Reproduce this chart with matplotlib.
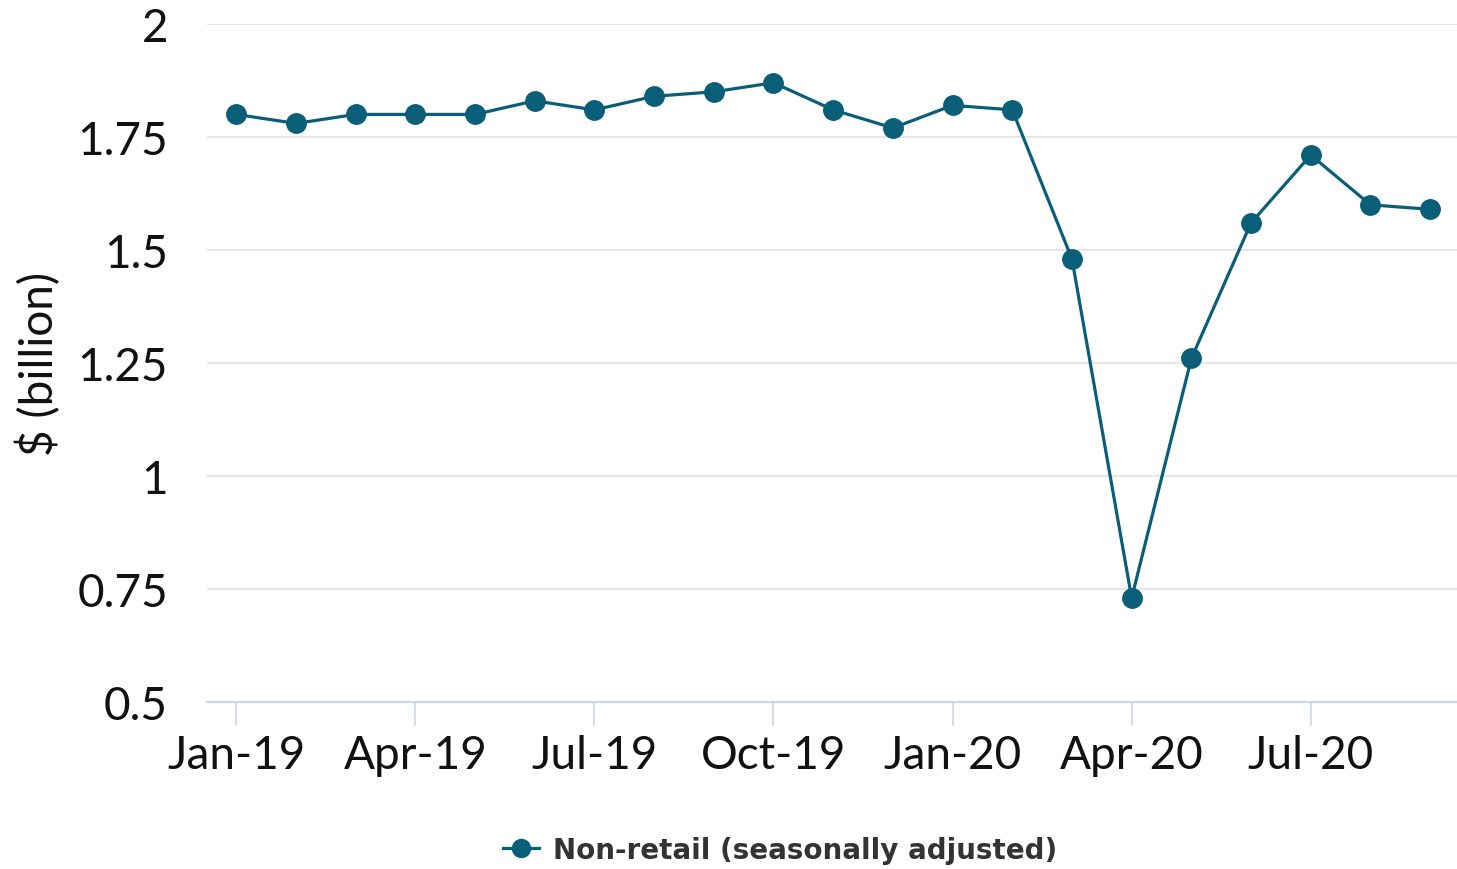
import matplotlib.pyplot as plt

# ====================== data ======================
months = ['Jan-19', 'Feb-19', 'Mar-19', 'Apr-19', 'May-19', 'Jun-19', 'Jul-19',
          'Aug-19', 'Sep-19', 'Oct-19', 'Nov-19', 'Dec-19', 'Jan-20', 'Feb-20',
          'Mar-20', 'Apr-20', 'May-20', 'Jun-20', 'Jul-20', 'Aug-20', 'Sep-20']
non_retail = [1.80, 1.78, 1.80, 1.80, 1.80, 1.83, 1.81, 1.84, 1.85, 1.87, 1.81,
              1.77, 1.82, 1.81, 1.48, 0.73, 1.26, 1.56, 1.71, 1.60, 1.59]
y_ticks = [0.5, 0.75, 1, 1.25, 1.5, 1.75, 2]
y_tick_labels = ['0.5', '0.75', '1', '1.25', '1.5', '1.75', '2']

LINE_COLOR = '#0b5e77'
plt.rcParams['font.family'] = ['Lato', 'DejaVu Sans']

# ====================== plot ======================
fig = plt.figure(figsize=(14.57, 8.7), dpi=100)
ax = fig.add_axes([207 / 1457, 1 - 703 / 870, 1250 / 1457, 678 / 870])

x = list(range(len(months)))
ax.plot(x, non_retail, color=LINE_COLOR, lw=2.3, marker='o', ms=14,
        label='Non-retail (seasonally adjusted)', clip_on=False, zorder=3)

ax.set_xlim(-0.49, 20.45)
ax.set_ylim(0.5, 2)
ax.set_yticks(y_ticks)
ax.set_yticklabels(y_tick_labels)
ax.set_xticks(x[::3])
ax.set_xticklabels(months[::3])

ax.grid(axis='y', color='#e6e6e6', lw=1.5)
ax.set_axisbelow(True)
for side in ['top', 'right', 'left']:
    ax.spines[side].set_visible(False)
ax.spines['bottom'].set_color('#ccd6eb')
ax.spines['bottom'].set_linewidth(1.5)

ax.tick_params(axis='y', length=0, pad=28, labelsize=33, labelcolor='#111111')
ax.tick_params(axis='x', length=17, width=1.2, color='#ccd6eb', pad=6,
               labelsize=33, labelcolor='#111111')
ax.set_ylabel('$ (billion)', fontsize=33, color='#111111')
ax.yaxis.set_label_coords(-146 / 1250, 0.5)

leg = fig.legend(loc='center', bbox_to_anchor=(780 / 1457, 1 - 851 / 870),
                 frameon=False, handlelength=1.3, handletextpad=0.5,
                 prop={'family': 'DejaVu Sans', 'weight': 'bold', 'size': 20})
for t in leg.get_texts():
    t.set_color('#333333')
for h in leg.get_lines():
    h.set_markersize(13)

fig.savefig('out.png', dpi=100)
